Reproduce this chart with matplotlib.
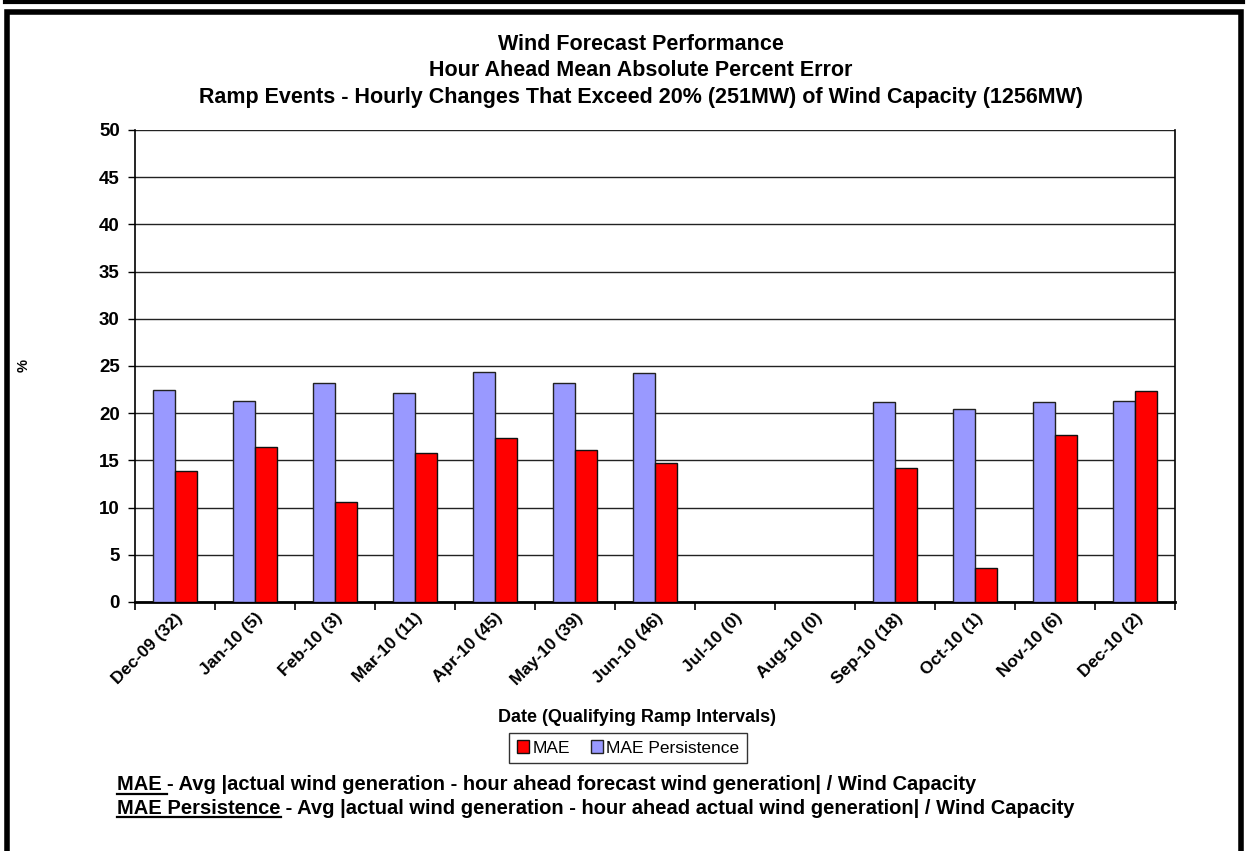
#!/usr/bin/env python3
"""
Wind forecast performance - hour ahead MAE for ramp events
"""

import matplotlib.pyplot as plt
import matplotlib.patches as patches
from matplotlib.lines import Line2D
import numpy as np

plt.rcParams['font.family'] = ['Liberation Sans', 'DejaVu Sans']

months = ['Dec-09 (32)', 'Jan-10 (5)', 'Feb-10 (3)', 'Mar-10 (11)', 'Apr-10 (45)',
          'May-10 (39)', 'Jun-10 (46)', 'Jul-10 (0)', 'Aug-10 (0)', 'Sep-10 (18)',
          'Oct-10 (1)', 'Nov-10 (6)', 'Dec-10 (2)']
mae = [13.9, 16.4, 10.6, 15.8, 17.4, 16.1, 14.7, 0, 0, 14.2, 3.6, 17.7, 22.4]
mae_persistence = [22.5, 21.3, 23.2, 22.1, 24.4, 23.2, 24.3, 0, 0, 21.2, 20.4, 21.2, 21.3]

RED = '#ff0000'
BLUE = '#9999ff'
BAR_W = 0.28

fig = plt.figure(figsize=(12.48, 8.51), dpi=100)
ax = fig.add_axes([135/1248, 1 - 602/851, 1040/1248, 472/851])

x = np.arange(len(months))
ax.bar(x - BAR_W/2, mae_persistence, BAR_W, color=BLUE, edgecolor='#222222',
       linewidth=1.0, label='MAE Persistence', zorder=3)
ax.bar(x + BAR_W/2, mae, BAR_W, color=RED, edgecolor='#111111',
       linewidth=1.0, label='MAE', zorder=3)

ax.set_xlim(-0.5, len(months) - 0.5)
ax.set_ylim(0, 50)
ax.set_yticks(np.arange(0, 51, 5))
ax.yaxis.grid(True, color='#222222', linewidth=1.0, zorder=0)
ax.set_axisbelow(True)

# category separators as ticks
ax.set_xticks(np.arange(-0.5, len(months) + 0.5, 1), minor=False)
ax.set_xticklabels([])
ax.set_xticks(x, minor=True)
ax.set_xticklabels(months, minor=True, rotation=45, ha='right', va='top',
                   rotation_mode='anchor', fontsize=12.5, fontweight='bold')
ax.tick_params(axis='x', which='major', length=6, width=1.2, direction='out')
ax.tick_params(axis='x', which='minor', length=0, pad=6)
ax.tick_params(axis='y', length=5, width=1, direction='out', labelsize=13.5, pad=6)
for lab in ax.get_yticklabels():
    lab.set_fontweight('bold')

ax.spines['top'].set_visible(False)
ax.spines['left'].set_linewidth(1.2)
ax.spines['right'].set_linewidth(1.2)
ax.spines['bottom'].set_linewidth(2.0)

ax.set_ylabel('%', fontsize=10.5, fontweight='bold')
ax.yaxis.set_label_coords(-0.1, 0.5)
ax.set_xlabel('Date (Qualifying Ramp Intervals)', fontsize=13, fontweight='bold')
ax.xaxis.set_label_coords((637 - 135) / 1040, (602 - 709) / 472)

# legend: MAE first, then persistence
handles, labels = ax.get_legend_handles_labels()
leg = fig.legend([handles[1], handles[0]], [labels[1], labels[0]],
                 loc='center', bbox_to_anchor=(628/1248, 1 - 748/851), ncol=2,
                 frameon=True, fancybox=False, edgecolor='black', fontsize=12.5,
                 handlelength=0.7, handleheight=0.7, handletextpad=0.2,
                 columnspacing=1.2, borderpad=0.45)
leg.get_frame().set_linewidth(1.0)

# titles
TITLE_X = 641 / 1248
fig.text(TITLE_X, 1 - 45/851, 'Wind Forecast Performance', ha='center', va='center',
         fontsize=15.5, fontweight='bold')
fig.text(TITLE_X, 1 - 70/851, 'Hour Ahead Mean Absolute Percent Error', ha='center',
         va='center', fontsize=15.5, fontweight='bold')
fig.text(TITLE_X, 1 - 97/851,
         'Ramp Events - Hourly Changes That Exceed 20% (251MW) of Wind Capacity (1256MW)',
         ha='center', va='center', fontsize=15.5, fontweight='bold')

# footnotes with underlined terms
notes = [('MAE ', '- Avg |actual wind generation - hour ahead forecast wind generation| / Wind Capacity', 785),
         ('MAE Persistence', ' - Avg |actual wind generation - hour ahead actual wind generation| / Wind Capacity', 808)]
fig.canvas.draw()
renderer = fig.canvas.get_renderer()
for term, rest, ypix in notes:
    t1 = fig.text(117/1248, 1 - ypix/851, term, ha='left', va='center',
                  fontsize=14.5, fontweight='bold')
    bb = t1.get_window_extent(renderer)
    fig.text(bb.x1/1248, 1 - ypix/851, rest, ha='left', va='center',
             fontsize=14.5, fontweight='bold')
    yl = bb.y0 + 1
    fig.add_artist(Line2D([bb.x0/1248, bb.x1/1248], [yl/851, yl/851],
                          color='black', linewidth=1.6, transform=fig.transFigure))

# outer frame
fig.add_artist(patches.Rectangle((7/1248, -0.01), 1234/1248, 1 - 12/851 + 0.01,
                                 transform=fig.transFigure, fill=False,
                                 edgecolor='black', linewidth=4))
fig.add_artist(Line2D([5/1248, 1243/1248], [1 - 2/851, 1 - 2/851], color='black',
                      linewidth=3, transform=fig.transFigure))

fig.savefig('out.png', dpi=100, facecolor='white')
